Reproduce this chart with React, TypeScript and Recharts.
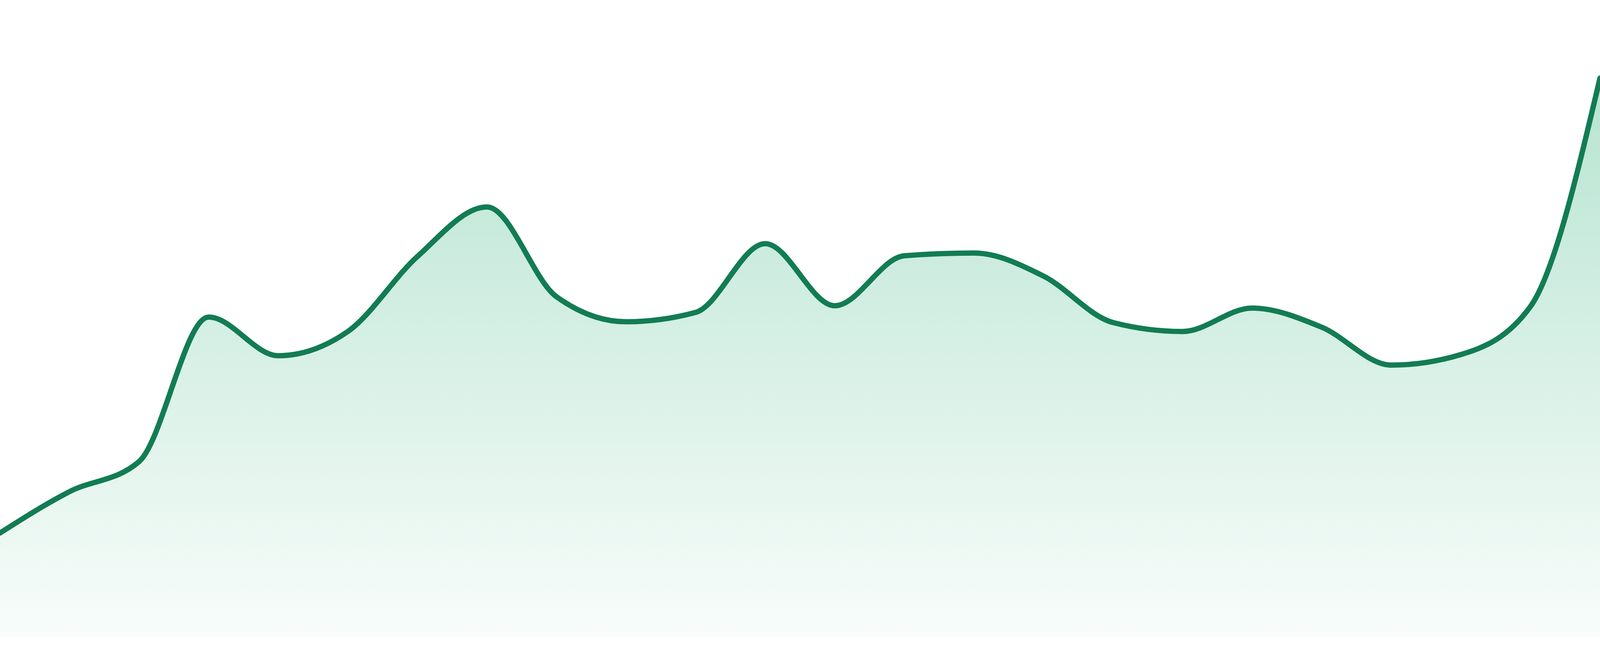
import { Area, AreaChart, XAxis, YAxis } from "recharts";

// hourly readings, 24 points, no axes shown in the reference
const hours = [
  "00:00", "01:00", "02:00", "03:00", "04:00", "05:00", "06:00", "07:00",
  "08:00", "09:00", "10:00", "11:00", "12:00", "13:00", "14:00", "15:00",
  "16:00", "17:00", "18:00", "19:00", "20:00", "21:00", "22:00", "23:00",
];

const values = [
  26.7, 37.3, 45.0, 82.0, 72.1, 78.3, 97.5, 110.2,
  87.2, 80.8, 83.2, 100.8, 84.9, 97.7, 98.4, 92.5,
  80.6, 78.3, 84.3, 79.4, 69.7, 72.4, 84.7, 143.2,
];

const data = hours.map((hour, i) => ({ hour, value: values[i] }));

export default function App() {
  // fill the whole viewport, whatever its css size turns out to be
  const w = typeof window !== "undefined" ? window.innerWidth : 4800;
  const h = typeof window !== "undefined" ? window.innerHeight : 1680;
  const k = w / 4800;

  return (
    <div style={{ width: w, height: h, background: "#fff", overflow: "hidden" }}>
      <style>{`html, body { margin: 0; padding: 0; overflow: hidden; }`}</style>
      <AreaChart
        width={w}
        height={h}
        data={data}
        margin={{ top: (h * 32) / 1680, right: 0, left: 0, bottom: (h * 48) / 1680 }}
      >
        <defs>
          <linearGradient id="gFill" x1="0" y1="0" x2="0" y2="1">
            <stop offset="0%" stopColor="#17a86a" stopOpacity={0.31} />
            <stop offset="100%" stopColor="#17a86a" stopOpacity={0.03} />
          </linearGradient>
        </defs>
        <XAxis dataKey="hour" hide />
        <YAxis hide domain={[0, 160]} />
        <Area
          type="monotone"
          dataKey="value"
          stroke="#127c53"
          strokeWidth={16 * k}
          strokeLinecap="round"
          fill="url(#gFill)"
          fillOpacity={1}
          dot={false}
          activeDot={false}
          isAnimationActive={false}
        />
      </AreaChart>
    </div>
  );
}
